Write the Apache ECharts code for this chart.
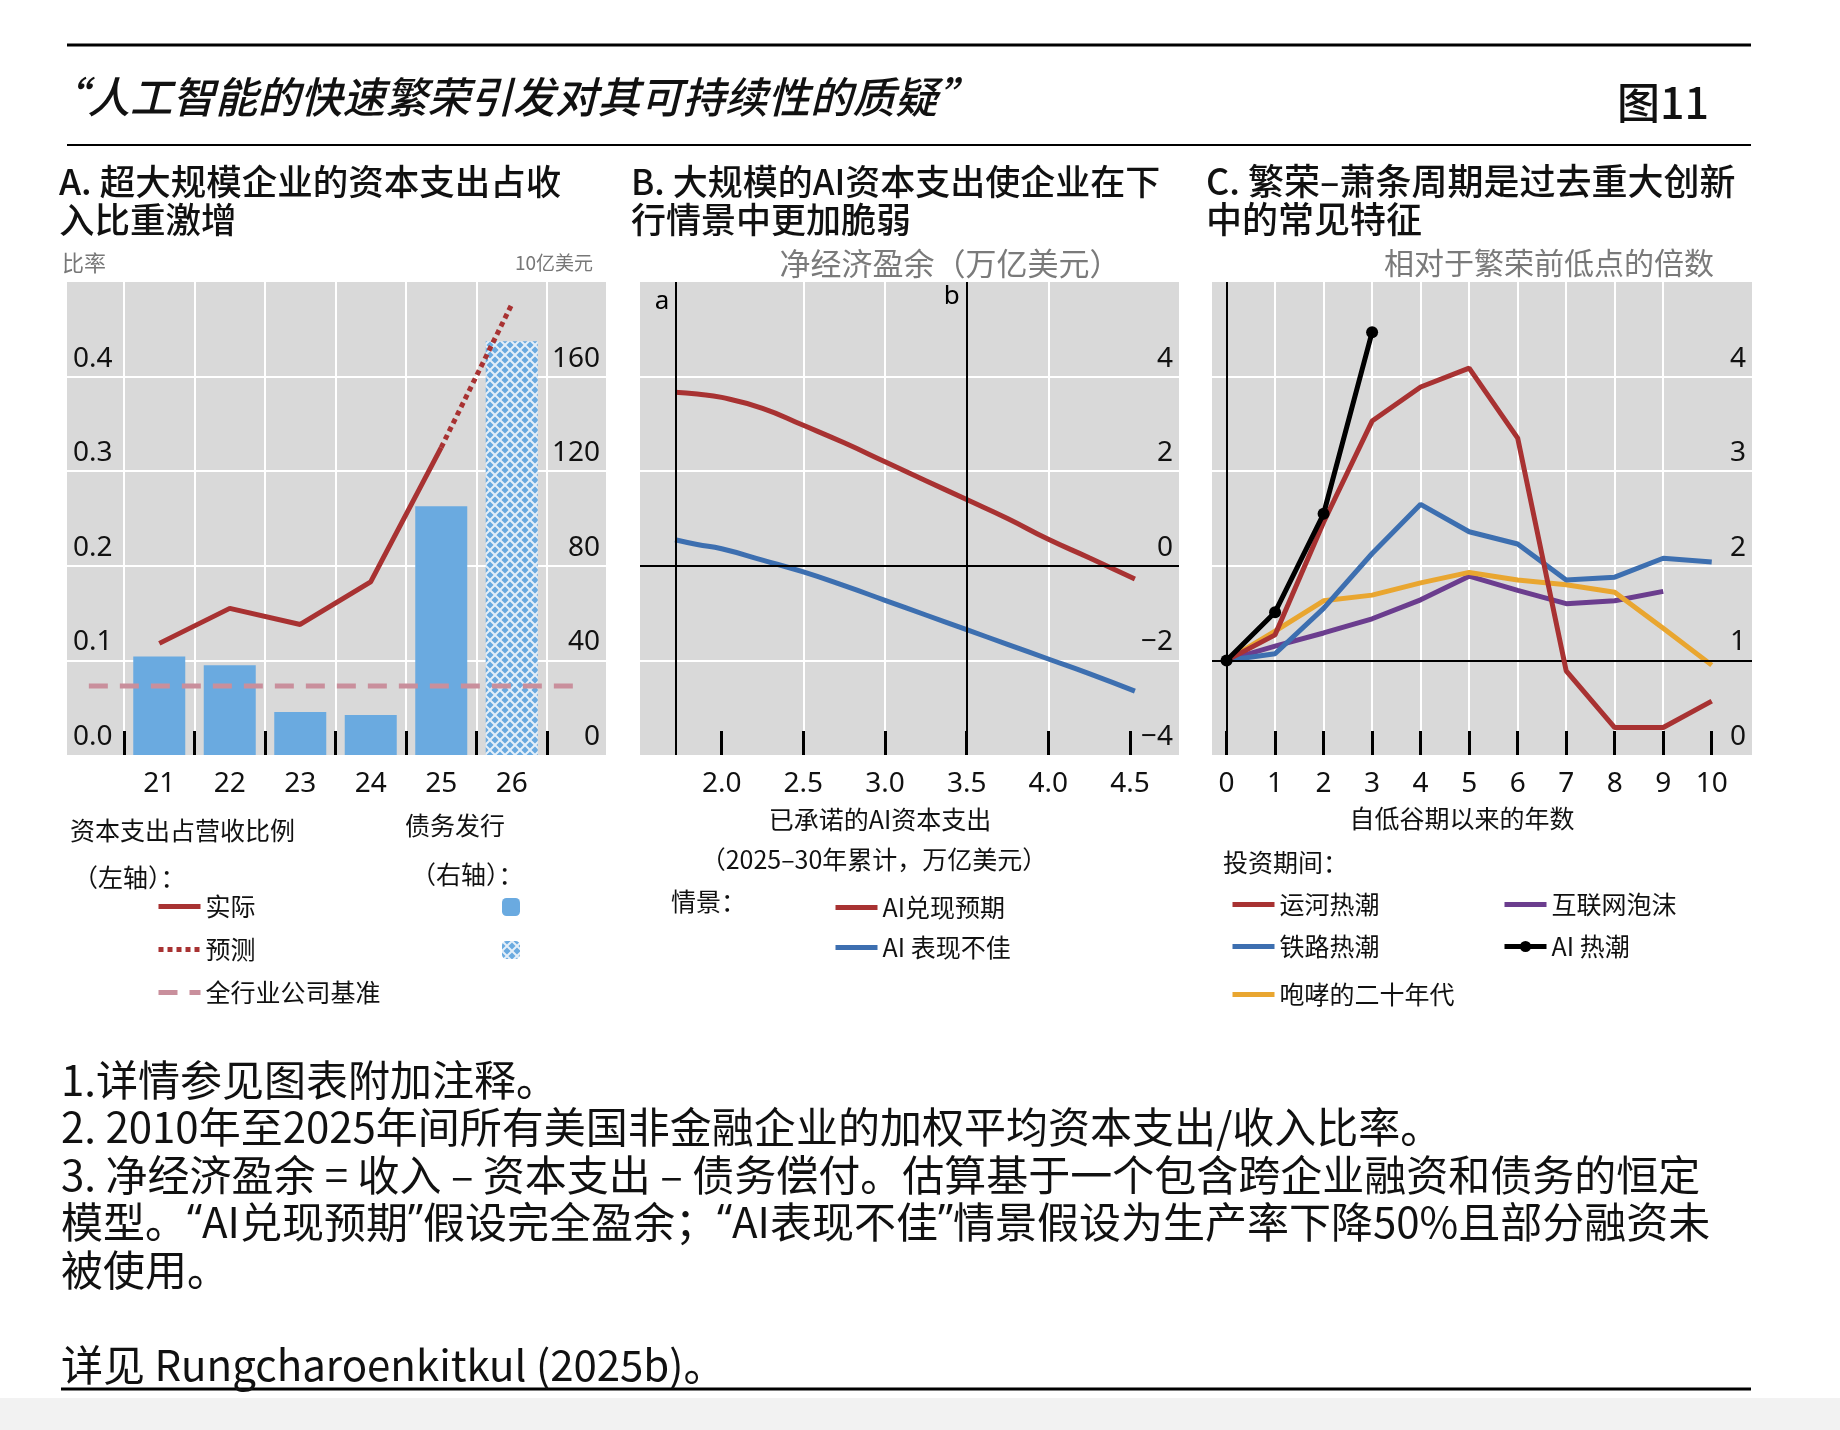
<!DOCTYPE html>
<html>
<head>
<meta charset="utf-8">
<script src="https://cdn.jsdelivr.net/npm/echarts@6/dist/echarts.min.js"></script>
<title>图11</title>
<style>
html, body { margin: 0; padding: 0; background: #fff; }
#main { width: 1840px; height: 1430px; }
</style>
</head>
<body>
<div id="main"></div>
<script>
// A: 资本支出占营收比例 / 债务发行
var yearsA = ['21', '22', '23', '24', '25', '26'];
var debtActual = [41.7, 38.0, 18.2, 16.9, 105.2, null];
var debtForecast = [null, null, null, null, null, 175];
var capexActual = [[21, 0.118], [22, 0.155], [23, 0.138], [24, 0.183], [25, 0.325]];
var capexForecast = [[25, 0.325], [26, 0.476]];
var benchmark = [[20, 0.073], [26.9, 0.073]];

// B: 净经济盈余
var capexB = [1.715, 1.85, 2.0, 2.25, 2.5, 2.75, 3.0, 3.25, 3.5, 3.75, 4.0, 4.25, 4.53];
var surplusPayoff = [3.67, 3.63, 3.56, 3.33, 2.97, 2.60, 2.20, 1.80, 1.40, 1.00, 0.56, 0.17, -0.28];
var surplusUnder = [0.55, 0.45, 0.36, 0.12, -0.13, -0.42, -0.73, -1.04, -1.35, -1.66, -1.97, -2.28, -2.65];
var markA = 1.715, markB = 3.5;
var ticksB = [2.0, 2.5, 3.0, 3.5, 4.0, 4.5];

// C: 相对于繁荣前低点的倍数
var yearsC = [0, 1, 2, 3, 4, 5, 6, 7, 8, 9, 10];
var canal = [1.0, 1.27, 2.46, 3.53, 3.89, 4.09, 3.35, 0.89, 0.29, 0.29, 0.57];
var railway = [1.0, 1.07, 1.55, 2.13, 2.65, 2.36, 2.23, 1.85, 1.88, 2.08, 2.04];
var roaring = [1.0, 1.31, 1.63, 1.69, 1.82, 1.93, 1.85, 1.80, 1.72, 1.34, 0.95];
var internet = [1.0, 1.15, 1.29, 1.44, 1.64, 1.89, 1.74, 1.60, 1.63, 1.73];
var aiBoom = [1.0, 1.51, 2.55, 4.47];

var FONT = '"Noto Sans", "Noto Sans CJK SC", sans-serif';
var CJK = '"Noto Sans CJK SC", "Noto Sans", sans-serif';
var GREY = '#d9d9d9';
var RED = '#a83232', BLUE = '#3d6fb0', BAR = '#6aaae0', PINK = '#c98f9c';
var PURPLE = '#6b3d8e', ORANGE = '#e9a630';

function pairs(xs, ys) {
    var out = [];
    for (var i = 0; i < ys.length; i++) out.push([xs[i], ys[i]]);
    return out;
}
function minus(v) { return String(v).replace('-', '\u2212'); }

// hatch for the 2026 bar
var hatch = document.createElement('canvas');
hatch.width = 10; hatch.height = 10;
var ctx = hatch.getContext('2d');
ctx.fillStyle = BAR; ctx.fillRect(0, 0, 10, 10);
ctx.strokeStyle = '#e4eff9'; ctx.lineWidth = 2;
ctx.beginPath();
ctx.moveTo(-1, -1); ctx.lineTo(11, 11);
ctx.moveTo(11, -1); ctx.lineTo(-1, 11);
ctx.stroke();

var tickStyle = { show: true, inside: true, length: 24, lineStyle: { color: '#000', width: 3 } };
var whiteSplit = { show: true, showMinLine: false, showMaxLine: false, lineStyle: { color: '#fff', width: 2 } };
var axisText = { fontSize: 28, color: '#111', fontFamily: FONT };
var noLine = { show: false, onZero: false };

function yLabel(fmt) {
    return {
        inside: true, verticalAlign: 'bottom', margin: 6, padding: [0, 0, 4, 0],
        showMaxLabel: false, fontSize: 28, color: '#111', fontFamily: FONT,
        formatter: fmt
    };
}

function txt(x, y, s, size, opt) {
    opt = opt || {};
    return {
        type: 'text', x: x, y: y, silent: true,
        style: {
            text: s, fill: opt.fill || '#111',
            font: (opt.style || 'normal') + ' ' + (opt.weight || 'normal') + ' ' + size + 'px ' + (opt.family || CJK),
            align: opt.align || 'left', verticalAlign: opt.va || 'middle',
            lineHeight: opt.lh, rich: opt.rich
        }
    };
}
function rule(x1, x2, y, w) {
    return { type: 'line', silent: true, shape: { x1: x1, y1: y, x2: x2, y2: y }, style: { stroke: '#000', lineWidth: w } };
}

var legendBase = {
    orient: 'vertical', selectedMode: false, itemWidth: 42, itemHeight: 14, padding: 0,
    textStyle: { fontSize: 25, color: '#111', fontFamily: CJK, lineHeight: 24 },
    lineStyle: { width: 5 },
    itemStyle: { opacity: 0 }
};
function legend(extra) { return Object.assign({}, legendBase, extra); }

var option = {
    animation: false,
    backgroundColor: '#fff',
    grid: [
        { left: 67, top: 282, width: 539, height: 473, show: true, backgroundColor: GREY, borderWidth: 0 },
        { left: 124, top: 282, width: 423, height: 473 },
        { left: 640, top: 282, width: 539, height: 473, show: true, backgroundColor: GREY, borderWidth: 0 },
        { left: 1212, top: 282, width: 540, height: 473, show: true, backgroundColor: GREY, borderWidth: 0 }
    ],
    xAxis: [
        { gridIndex: 0, type: 'value', min: 19.69, max: 27.34, show: false },
        {
            gridIndex: 1, type: 'category', data: yearsA, z: 3,
            axisLine: noLine, axisTick: tickStyle,
            axisLabel: Object.assign({ margin: 15 }, axisText),
            splitLine: { show: true, lineStyle: { color: '#fff', width: 2 } }
        },
        {
            gridIndex: 2, type: 'value', min: 1.5, max: 4.8,
            axisLine: noLine,
            axisTick: Object.assign({ customValues: ticksB }, tickStyle),
            axisLabel: Object.assign({ margin: 15, customValues: ticksB, formatter: function (v) { return v.toFixed(1); } }, axisText),
            splitLine: whiteSplit
        },
        {
            gridIndex: 3, type: 'value', min: -0.3, max: 10.83,
            axisLine: noLine,
            axisTick: Object.assign({ customValues: yearsC }, tickStyle),
            axisLabel: Object.assign({ margin: 15, customValues: yearsC }, axisText),
            splitLine: whiteSplit
        }
    ],
    yAxis: [
        {
            gridIndex: 0, type: 'value', min: 0, max: 0.5, interval: 0.1, position: 'left',
            axisLine: noLine, axisTick: { show: false }, splitLine: whiteSplit,
            axisLabel: yLabel(function (v) { return v.toFixed(1); })
        },
        {
            gridIndex: 0, type: 'value', min: 0, max: 200, interval: 40, position: 'right',
            axisLine: noLine, axisTick: { show: false }, splitLine: { show: false },
            axisLabel: yLabel()
        },
        { gridIndex: 1, type: 'value', min: 0, max: 200, show: false },
        {
            gridIndex: 2, type: 'value', min: -4, max: 6, interval: 2, position: 'right',
            axisLine: noLine, axisTick: { show: false }, splitLine: whiteSplit,
            axisLabel: yLabel(minus)
        },
        {
            gridIndex: 3, type: 'value', min: 0, max: 5, interval: 1, position: 'right',
            axisLine: noLine, axisTick: { show: false }, splitLine: whiteSplit,
            axisLabel: yLabel()
        }
    ],
    legend: [
        legend({ data: ['实际', '预测', '全行业公司基准'], left: 156, top: 894, itemGap: 18 }),
        legend({ data: ['债务发行', '债务发行（预测）'], left: 502, top: 898, itemWidth: 18, itemHeight: 18, itemGap: 25,
                 itemStyle: {}, formatter: function () { return ''; } }),
        legend({ data: ['AI兑现预期', 'AI 表现不佳'], left: 833, top: 895, itemGap: 15 }),
        legend({ data: ['运河热潮', '铁路热潮'], left: 1230, top: 892, itemGap: 17 }),
        legend({ data: ['咆哮的二十年代'], left: 1230, top: 982 }),
        legend({ data: ['互联网泡沫', { name: 'AI 热潮', itemStyle: { opacity: 1 } }], left: 1502, top: 892, itemGap: 17 })
    ],
    series: [
        // A
        { type: 'bar', name: '债务发行', xAxisIndex: 1, yAxisIndex: 2, data: debtActual, barWidth: 52, itemStyle: { color: BAR } },
        { type: 'bar', name: '债务发行（预测）', xAxisIndex: 1, yAxisIndex: 2, data: debtForecast, barWidth: 52, barGap: '-100%',
          itemStyle: { color: { image: hatch, repeat: 'repeat' } } },
        { type: 'line', name: '全行业公司基准', xAxisIndex: 0, yAxisIndex: 0, data: benchmark, symbol: 'none', z: 4,
          lineStyle: { color: PINK, width: 5, type: [19, 12] }, itemStyle: { color: PINK } },
        { type: 'line', name: '实际', xAxisIndex: 0, yAxisIndex: 0, data: capexActual, symbol: 'none', z: 4,
          lineStyle: { color: RED, width: 5 }, itemStyle: { color: RED } },
        { type: 'line', name: '预测', xAxisIndex: 0, yAxisIndex: 0, data: capexForecast, symbol: 'none', z: 4,
          lineStyle: { color: RED, width: 5, type: [5, 4] }, itemStyle: { color: RED } },
        // B
        { type: 'line', name: 'AI 表现不佳', xAxisIndex: 2, yAxisIndex: 3, data: pairs(capexB, surplusUnder), symbol: 'none', smooth: true,
          lineStyle: { color: BLUE, width: 5 }, itemStyle: { color: BLUE },
          markLine: { silent: true, symbol: 'none', label: { show: false }, lineStyle: { color: '#000', width: 2, type: 'solid' },
                      data: [{ xAxis: markA }, { xAxis: markB }, { yAxis: 0 }] },
          markPoint: { silent: true, symbol: 'circle', symbolSize: 1, itemStyle: { color: 'rgba(0,0,0,0)' },
                       label: { show: true, formatter: '{b}', color: '#000', fontSize: 26, fontFamily: FONT, position: 'inside' },
                       data: [{ name: 'a', coord: [markA, 6], label: { offset: [-13, 20] } },
                              { name: 'b', coord: [markB, 6], label: { offset: [-15, 15] } }] } },
        { type: 'line', name: 'AI兑现预期', xAxisIndex: 2, yAxisIndex: 3, data: pairs(capexB, surplusPayoff), symbol: 'none', smooth: true, z: 3,
          lineStyle: { color: RED, width: 5 }, itemStyle: { color: RED } },
        // C
        { type: 'line', name: '互联网泡沫', xAxisIndex: 3, yAxisIndex: 4, data: pairs(yearsC, internet), symbol: 'none',
          lineStyle: { color: PURPLE, width: 5 }, itemStyle: { color: PURPLE },
          markLine: { silent: true, symbol: 'none', label: { show: false }, lineStyle: { color: '#000', width: 2, type: 'solid' },
                      data: [{ xAxis: 0 }, { yAxis: 1 }] } },
        { type: 'line', name: '咆哮的二十年代', xAxisIndex: 3, yAxisIndex: 4, data: pairs(yearsC, roaring), symbol: 'none', z: 3,
          lineStyle: { color: ORANGE, width: 5 }, itemStyle: { color: ORANGE } },
        { type: 'line', name: '铁路热潮', xAxisIndex: 3, yAxisIndex: 4, data: pairs(yearsC, railway), symbol: 'none', z: 4,
          lineStyle: { color: BLUE, width: 5 }, itemStyle: { color: BLUE } },
        { type: 'line', name: '运河热潮', xAxisIndex: 3, yAxisIndex: 4, data: pairs(yearsC, canal), symbol: 'none', z: 5,
          lineStyle: { color: RED, width: 5 }, itemStyle: { color: RED } },
        { type: 'line', name: 'AI 热潮', xAxisIndex: 3, yAxisIndex: 4, data: pairs(yearsC, aiBoom), symbol: 'circle', symbolSize: 12, z: 6,
          lineStyle: { color: '#000', width: 5 }, itemStyle: { color: '#000' } }
    ],
    graphic: [
        rule(67, 1751, 45, 3),
        rule(67, 1751, 145, 2),
        rule(61, 1751, 1389, 3),
        { type: 'rect', silent: true, shape: { x: 0, y: 1398, width: 1840, height: 32 }, style: { fill: '#f2f2f2' } },
        txt(45, 97, '“人工智能的快速繁荣引发对其可持续性的质疑”', 42.5, { style: 'italic', weight: 500 }),
        txt(1617, 103, '图11', 43, { weight: 500 }),
        txt(59, 163, 'A. 超大规模企业的资本支出占收\n入比重激增', 35.5, { va: 'top', lh: 37.5, weight: 500 }),
        txt(631, 163, 'B. 大规模的AI资本支出使企业在下\n行情景中更加脆弱', 35, { va: 'top', lh: 37.5, weight: 500 }),
        txt(1206, 163, 'C. 繁荣–萧条周期是过去重大创新\n中的常见特征', 36, { va: 'top', lh: 37.5, weight: 500 }),
        txt(62, 263, '比率', 22, { fill: '#777' }),
        txt(593, 263, '10亿美元', 19, { fill: '#777', align: 'right' }),
        txt(950, 263, '净经济盈余（万亿美元）', 31, { fill: '#7a7a7a', align: 'center' }),
        txt(1549, 263, '相对于繁荣前低点的倍数', 30, { fill: '#7a7a7a', align: 'center' }),
        txt(70, 830, '资本支出占营收比例', 25),
        txt(73, 877, '（左轴）：', 25),
        txt(405, 825, '债务发行', 25),
        txt(411, 874, '（右轴）：', 25),
        txt(880, 819, '已承诺的AI资本支出', 25, { align: 'center' }),
        txt(874, 859, '（2025–30年累计，万亿美元）', 25, { align: 'center' }),
        txt(671, 901, '情景：', 25),
        txt(1462, 818, '自低谷期以来的年数', 25, { align: 'center' }),
        txt(1223, 862, '投资期间：', 25),
        txt(61, 1056,
            '1.详情参见图表附加注释。\n' +
            '2. 2010年至2025年间所有美国非金融企业的加权平均资本支出/收入比率。\n' +
            '3. 净经济盈余 = 收入 – 资本支出 – 债务偿付。估算基于一个包含跨企业融资和债务的恒定\n' +
            '模型。{q|“}AI兑现预期{q|”}假设完全盈余；{q|“}AI表现不佳{q|”}情景假设为生产率下降50%且部分融资未\n' +
            '被使用。\n' +
            '\n' +
            '详见 Rungcharoenkitkul (2025b)。', 42,
            { va: 'top', lh: 47.5,
              rich: { q: { fontFamily: '"Noto Sans", sans-serif', fontSize: 42, lineHeight: 47.5, fill: '#111' } } })
    ]
};

var myChart = echarts.init(document.getElementById('main'));
myChart.setOption(option);
</script>
</body>
</html>
